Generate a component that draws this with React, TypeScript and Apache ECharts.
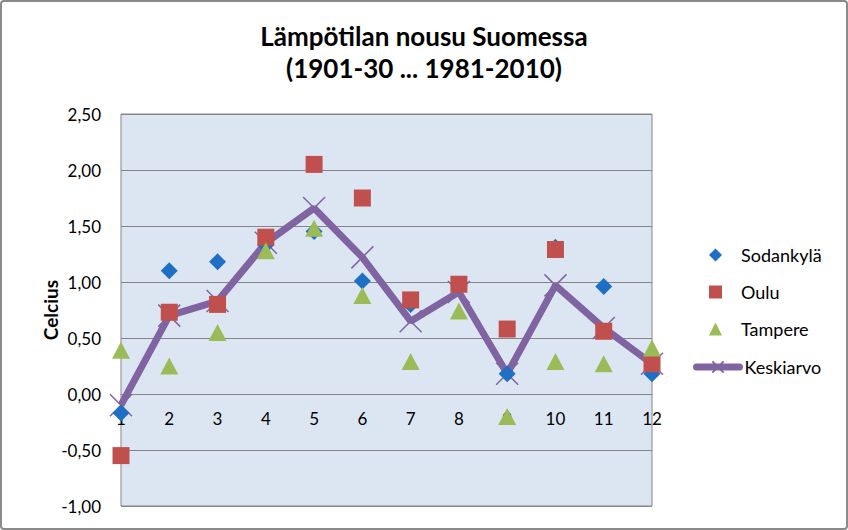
import React, { useEffect, useRef } from "react";
import * as echarts from "echarts";

const categories = ["1", "2", "3", "4", "5", "6", "7", "8", "9", "10", "11", "12"];
const sodankyla = [-0.17, 1.1, 1.18, 1.33, 1.45, 1.01, 0.8, 0.97, 0.18, 1.31, 0.96, 0.18];
const oulu = [-0.55, 0.73, 0.8, 1.4, 2.05, 1.75, 0.84, 0.98, 0.58, 1.29, 0.56, 0.27];
const tampere = [0.39, 0.25, 0.55, 1.28, 1.48, 0.88, 0.29, 0.74, -0.2, 0.29, 0.27, 0.41];
const keskiarvo = [-0.1, 0.7, 0.83, 1.35, 1.66, 1.22, 0.65, 0.91, 0.18, 0.97, 0.59, 0.27];
const seriesNames = ["Sodankylä", "Oulu", "Tampere", "Keskiarvo"];

const FONT = "Lato, 'Open Sans', sans-serif";

export default function App() {
  const ref = useRef<HTMLDivElement>(null);
  useEffect(() => {
    document.body.style.margin = "0";
    const chart = echarts.init(ref.current!, null, { renderer: "svg" });
    const xSym = "path://M0,0L10,10M10,0L0,10";
    const legendCenters = [255, 292, 329, 367];
    const legends = seriesNames.map((name, i) => {
      const isLine = i === 3;
      return {
        orient: "vertical",
        left: isLine ? 688 : 704,
        top: legendCenters[i] - 14,
        itemWidth: isLine ? 43 : 13,
        itemHeight: isLine ? 14 : 13,
        lineStyle: isLine ? { width: 7, cap: "round" } : undefined,
        textStyle: {
          fontFamily: FONT,
          fontSize: 18,
          color: "#000",
          padding: isLine ? 0 : [0, 0, 0, 14],
        },
        data: [name],
      };
    });
    chart.setOption({
      animation: false,
      backgroundColor: "#ffffff",
      textStyle: { fontFamily: FONT },
      title: {
        text: "Lämpötilan nousu Suomessa\n(1901-30 ... 1981-2010)",
        left: "center",
        top: 15,
        textStyle: { fontFamily: FONT, fontSize: 26, fontWeight: "bold", color: "#000", lineHeight: 32 },
      },
      graphic: [
        {
          type: "rect",
          shape: { x: 1, y: 1, width: 846, height: 528, r: 3 },
          style: { fill: "none", stroke: "#8a8a8a", lineWidth: 2 },
          silent: true,
          z: 100,
        },
      ],
      legend: legends,
      grid: {
        left: 121,
        top: 114,
        width: 531,
        height: 392,
        show: true,
        backgroundColor: "#DCE6F2",
        borderColor: "#868686",
        borderWidth: 1,
      },
      xAxis: {
        type: "category",
        data: categories,
        boundaryGap: false,
        position: "bottom",
        offset: -112,
        axisLine: { show: true, onZero: false, lineStyle: { color: "#868686" } },
        axisTick: { show: false },
        axisLabel: { color: "#000", fontSize: 17, margin: 16, fontFamily: FONT },
        splitLine: { show: false },
      },
      yAxis: {
        type: "value",
        min: -1,
        max: 2.5,
        interval: 0.5,
        name: "Celcius",
        nameLocation: "middle",
        nameRotate: 90,
        nameGap: 61,
        nameMoveOverlap: false,
        nameTextStyle: { fontFamily: FONT, fontSize: 19, fontWeight: "bold", color: "#000" },
        axisLine: { show: false },
        axisTick: { show: false },
        axisLabel: {
          color: "#000",
          fontSize: 17,
          margin: 20,
          fontFamily: FONT,
          formatter: (v: number) => v.toFixed(2).replace(".", ","),
        },
        splitLine: { lineStyle: { color: "#868686", width: 1 } },
      },
      series: [
        {
          name: "Keskiarvo",
          type: "line",
          data: keskiarvo,
          z: 1,
          symbol: xSym,
          symbolSize: 22,
          lineStyle: { color: "#8064A2", width: 7 },
          itemStyle: { color: "#8064A2", borderColor: "#8064A2", borderWidth: 1.5 },
        },
        {
          name: "Sodankylä",
          type: "scatter",
          data: sodankyla,
          z: 2,
          symbol: "diamond",
          symbolSize: 17,
          itemStyle: { color: "#1F6FC5", opacity: 1 },
        },
        {
          name: "Oulu",
          type: "scatter",
          data: oulu,
          z: 3,
          symbol: "rect",
          symbolSize: 17,
          itemStyle: { color: "#C0504D", opacity: 1 },
        },
        {
          name: "Tampere",
          type: "scatter",
          data: tampere,
          z: 4,
          symbol: "triangle",
          symbolSize: [18, 17],
          itemStyle: { color: "#9BBB59", opacity: 1 },
        },
      ],
    });
    return () => chart.dispose();
  }, []);
  return <div ref={ref} style={{ width: 848, height: 530 }} />;
}
